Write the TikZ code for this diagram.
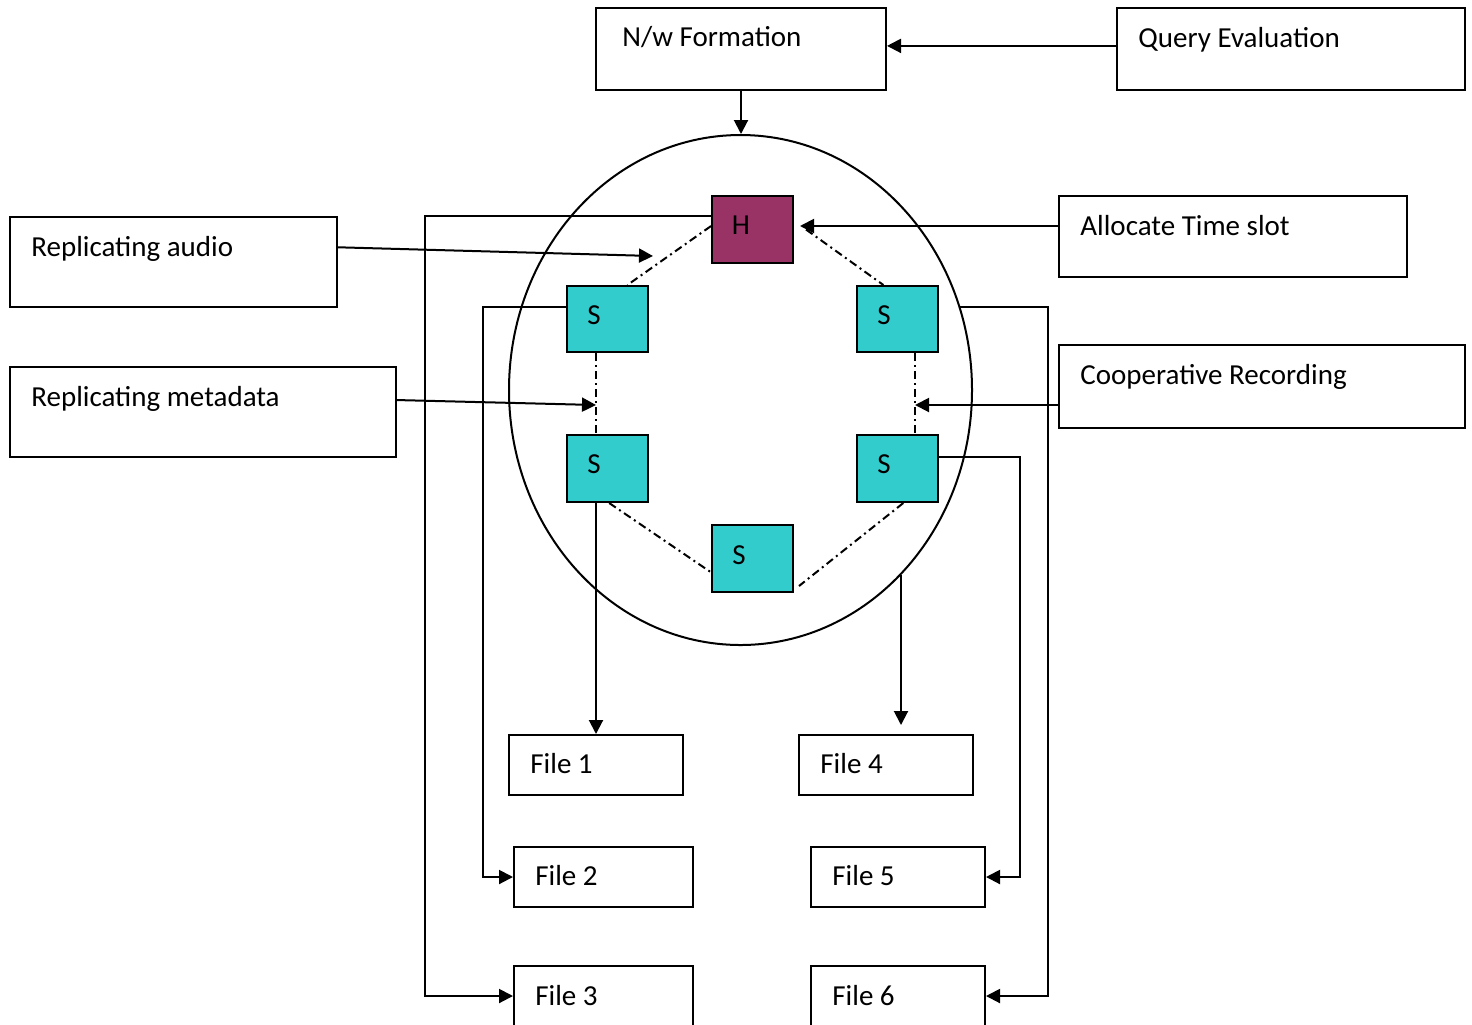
\documentclass[tikz,border=0pt]{standalone}
\usepackage{fontspec}
\setmainfont{Carlito}
\usetikzlibrary{arrows.meta,fit,shapes.geometric,calc}
\definecolor{hcol}{RGB}{153,51,102}
\definecolor{scol}{RGB}{51,204,204}
\tikzset{
  box/.style={draw, line width=1pt, inner sep=0pt},
  lbl/.style={anchor=base west, inner sep=0pt, font=\fontsize{14.5}{17}\selectfont},
  ltr/.style={anchor=base, inner sep=0pt, font=\fontsize{14.5}{17}\selectfont},
  conn/.style={line width=1pt},
  arr/.style={conn, -{Triangle[length=7pt,width=7pt]}},
  dd/.style={line width=1pt, dash pattern=on 4pt off 2pt on 1pt off 2pt},
  hbox/.style={box, fill=hcol},
  sbox/.style={box, fill=scol}
}
\begin{document}
\begin{tikzpicture}[x=0.5pt,y=-0.5pt]
\useasboundingbox (0,0) rectangle (1472,1024);
\clip (0,0) rectangle (1472,1024);
\fill[white] (0,0) rectangle (1472,1024);

% outer boxes
\node[box, fit={(596,8)(886,90)}] (nw) {};
\node[box, fit={(1117,8)(1465,90)}] (qe) {};
\node[box, fit={(1059,196)(1407,277)}] (ats) {};
\node[box, fit={(1059,345)(1465,428)}] (cr) {};
\node[box, fit={(10,217)(337,307)}] (ra) {};
\node[box, fit={(10,367)(396,457)}] (rm) {};
\node[box, fit={(509,735)(683,795)}] (f1) {};
\node[box, fit={(799,735)(973,795)}] (f4) {};
\node[box, fit={(514,847)(693,907)}] (f2) {};
\node[box, fit={(811,847)(985,907)}] (f5) {};
\node[box, fit={(514,966)(693,1026)}] (f3) {};
\node[box, fit={(811,966)(985,1026)}] (f6) {};

% ring
\node[draw, ellipse, line width=1pt, minimum width=231.5pt, minimum height=255pt, inner sep=0pt] (ring) at (740.5,390) {};

% inner nodes
\node[hbox, fit={(712,196)(793,263)}] (h) {};
\node[sbox, fit={(567,286)(648,352)}] (s1) {};
\node[sbox, fit={(857,286)(938,352)}] (s2) {};
\node[sbox, fit={(567,435)(648,502)}] (s3) {};
\node[sbox, fit={(857,435)(938,502)}] (s4) {};
\node[sbox, fit={(712,525)(793,592)}] (s5) {};

% labels
\node[lbl] (tnw) at (622,46) {N/w Formation};
\node[lbl] (tqe) at (1138,47) {Query Evaluation};
\node[lbl] (tats) at (1080,235) {Allocate Time slot};
\node[lbl] (tcr) at (1080,384) {Cooperative Recording};
\node[lbl] (tra) at (31,256) {Replicating audio};
\node[lbl] (trm) at (31,406) {Replicating metadata};
\node[lbl] (tf1) at (530,773) {File 1};
\node[lbl] (tf4) at (820,773) {File 4};
\node[lbl] (tf2) at (535,885) {File 2};
\node[lbl] (tf5) at (832,885) {File 5};
\node[lbl] (tf3) at (535,1005) {File 3};
\node[lbl] (tf6) at (832,1005) {File 6};
\node[ltr] (th) at (741,234) {H};
\node[ltr] (ts1) at (594,324) {S};
\node[ltr] (ts2) at (884,324) {S};
\node[ltr] (ts3) at (594,473) {S};
\node[ltr] (ts4) at (884,473) {S};
\node[ltr] (ts5) at (739,564) {S};

% dash-dot links
\draw[dd] ($(h.north west)!0.45!(h.south west)$) -- ($(s1.north west)!0.74!(s1.north east)$);
\draw[dd] ([xshift=6pt]h.east) -- ($(s2.north west)!0.33!(s2.north east)$);
\draw[dd] (s1.south -| f1.north) -- (s3.north -| f1.north);
\draw[dd] ($(s2.south west)!0.716!(s2.south east)$) -- ($(s4.north west)!0.716!(s4.north east)$);
\draw[dd] ($(s3.south west)!0.52!(s3.south east)$) -- ($(s5.north west)!0.7!(s5.south west)$);
\draw[dd] ($(s4.south west)!0.57!(s4.south east)$) -- ([xshift=2.5pt,yshift=3.5pt]s5.south east);

% connectors
\draw[arr] (nw.south) -- (nw.south |- ring.north);
\coordinate (qeout) at ($(qe.north west)!0.463!(qe.south west)$);
\draw[arr] (qeout) -- (qeout -| nw.east);
\coordinate (atsin) at (800,226);
\draw[arr] (atsin -| ats.west) -- (atsin);
\coordinate (raend) at (653,256);
\draw[arr] ($(ra.north east)!0.34!(ra.south east)$) -- (raend);
\coordinate (rmend) at (596,405);
\draw[arr] ($(rm.north east)!0.37!(rm.south east)$) -- (rmend);
\coordinate (crend) at (915,405);
\draw[arr] (crend -| cr.west) -- (crend);

\draw[arr] ($(h.north west)!0.31!(h.south west)$) -- ++(-286,0) |- (f3.west);
\draw[arr] ($(s1.north west)!0.32!(s1.south west)$) -- ++(-83,0) |- (f2.west);
\draw[arr] (s3.south -| f1.north) -- (f1.north);
\coordinate (c4) at (901,575);
\draw[arr, shorten >=4.5pt] (c4) -- (c4 |- f4.north);
\draw[arr] ($(s4.north east)!0.33!(s4.south east)$) -- ++(81,0) |- (f5.east);
\coordinate (c6) at (960,307);
\draw[arr] (c6) -- ++(88,0) |- (f6.east);
\end{tikzpicture}
\end{document}
